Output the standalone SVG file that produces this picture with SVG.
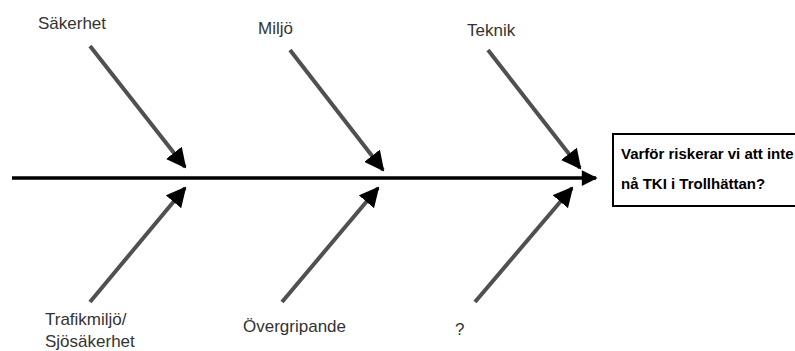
<svg xmlns="http://www.w3.org/2000/svg" width="795" height="351" viewBox="0 0 795 351">
<style>
.lbl{font-family:"Liberation Sans",Arial,sans-serif;font-size:17px;fill:#333}
.bone{stroke:#505050;stroke-width:4;fill:none}
.spine{stroke:#000;stroke-width:3.5;fill:none}
.q{font-family:"Liberation Sans",Arial,sans-serif;font-size:15px;font-weight:bold;fill:#000}
</style>
<defs>
<marker id="ah" viewBox="0 0 10 10" refX="9" refY="5" markerWidth="5" markerHeight="5" markerUnits="strokeWidth" orient="auto">
<path d="M0,0 L10,5 L0,10 z" fill="#000"/>
</marker>
<marker id="ah2" viewBox="0 0 10 10" refX="9" refY="5" markerWidth="6" markerHeight="4.5" markerUnits="strokeWidth" orient="auto">
<path d="M0,0 L10,5 L0,10 z" fill="#000"/>
</marker>
</defs>
<rect width="795" height="351" fill="#fff"/>
<g id="connectors">
<line class="spine" x1="12" y1="178" x2="596" y2="178" marker-end="url(#ah2)"/>
<line class="bone" x1="90" y1="46" x2="185" y2="167" marker-end="url(#ah)"/>
<line class="bone" x1="290" y1="50" x2="383" y2="170" marker-end="url(#ah)"/>
<line class="bone" x1="488" y1="50" x2="580" y2="168" marker-end="url(#ah)"/>
<line class="bone" x1="90" y1="302" x2="185" y2="188" marker-end="url(#ah)"/>
<line class="bone" x1="282" y1="302" x2="378" y2="188" marker-end="url(#ah)"/>
<line class="bone" x1="475" y1="302" x2="572" y2="188" marker-end="url(#ah)"/>
</g>
<g id="effect">
<rect x="613" y="134" width="190" height="72" fill="#fff" stroke="#000" stroke-width="2"/>
<text class="q" x="621" y="159">Varför riskerar vi att inte</text>
<text class="q" x="621" y="189">nå TKI i Trollhättan?</text>
</g>
<g id="sakerhet"><text class="lbl" x="38" y="29">Säkerhet</text></g>
<g id="miljo"><text class="lbl" x="258" y="34">Miljö</text></g>
<g id="teknik"><text class="lbl" x="467" y="36">Teknik</text></g>
<g id="trafikmiljo"><text class="lbl" x="45" y="325">Trafikmiljö/</text><text class="lbl" x="45" y="347">Sjösäkerhet</text></g>
<g id="overgripande"><text class="lbl" x="243" y="332">Övergripande</text></g>
<g id="fraga"><text class="lbl" x="455" y="335">?</text></g>
</svg>
